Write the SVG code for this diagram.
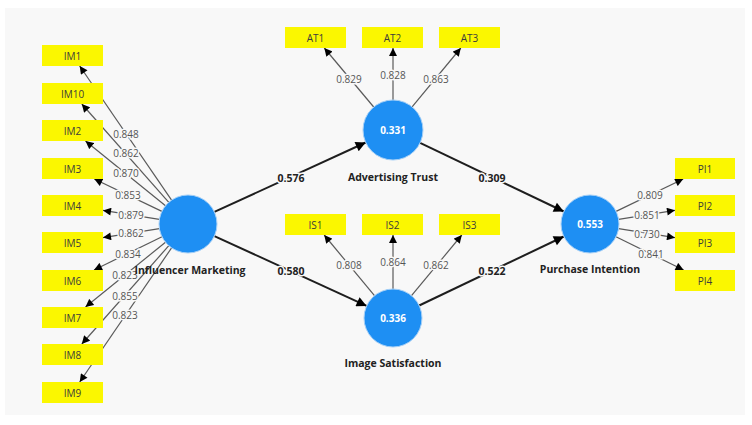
<svg xmlns="http://www.w3.org/2000/svg" width="752" height="425" viewBox="0 0 752 425">
<style>
.bg{fill:#f8f8f8}
.ind{stroke:#5a5a5a;stroke-width:1.2;fill:none;marker-end:url(#ah)}
.str{stroke:#1e1e1e;stroke-width:2;fill:none;marker-end:url(#ahb)}
.box{fill:#fbf700}
.bt{font-family:"Open Sans","Liberation Sans",sans-serif;font-size:10px;fill:#3c3c3c;text-anchor:middle;dominant-baseline:central}
.lv{fill:#1e8ff3;stroke:#a6d0f7;stroke-width:1}
.vt{font-family:"Open Sans","Liberation Sans",sans-serif;font-size:10px;font-weight:bold;fill:#ffffff;text-anchor:middle;dominant-baseline:central}
.nl{font-family:"Open Sans","Liberation Sans",sans-serif;font-size:10.5px;font-weight:bold;fill:#222;text-anchor:middle;dominant-baseline:central}
.il{font-family:"Open Sans","Liberation Sans",sans-serif;font-size:10px;fill:#555;text-anchor:middle;dominant-baseline:central;paint-order:stroke;stroke:#f8f8f8;stroke-width:3}
.sl{font-family:"Open Sans","Liberation Sans",sans-serif;font-size:10.5px;font-weight:bold;fill:#222;text-anchor:middle;dominant-baseline:central;paint-order:stroke;stroke:#f8f8f8;stroke-width:3}
</style>
<defs>
<marker id="ah" viewBox="0 0 10 10" refX="10" refY="5" markerWidth="9" markerHeight="8" markerUnits="userSpaceOnUse" orient="auto"><path d="M0,0 L10,5 L0,10 z" fill="#000"/></marker>
<marker id="ahb" viewBox="0 0 10 10" refX="10" refY="5" markerWidth="11" markerHeight="10" markerUnits="userSpaceOnUse" orient="auto"><path d="M0,0 L10,5 L0,10 z" fill="#000"/></marker>
</defs>
<rect width="752" height="425" fill="#ffffff"/>
<rect class="bg" x="5" y="8" width="740" height="407"/>
<g id="connectors">
<line class="ind" x1="171.6" y1="200.1" x2="79.7" y2="66"/>
<line class="ind" x1="168.8" y1="202.3" x2="81.8" y2="104"/>
<line class="ind" x1="165.5" y1="205.8" x2="85.5" y2="141"/>
<line class="ind" x1="161.9" y1="211.4" x2="94.3" y2="179"/>
<line class="ind" x1="159.4" y1="219.4" x2="103" y2="210.4"/>
<line class="ind" x1="159.4" y1="228.6" x2="103" y2="237.6"/>
<line class="ind" x1="162" y1="236.7" x2="94" y2="270"/>
<line class="ind" x1="165.5" y1="242.2" x2="85.5" y2="307"/>
<line class="ind" x1="168.8" y1="245.7" x2="81.8" y2="344"/>
<line class="ind" x1="171.6" y1="247.9" x2="79.7" y2="382"/>
<line class="ind" x1="373.7" y1="107" x2="324.3" y2="48"/>
<line class="ind" x1="393" y1="100" x2="393" y2="48"/>
<line class="ind" x1="412.1" y1="106.9" x2="460.8" y2="48"/>
<line class="ind" x1="374.5" y1="295.7" x2="324.2" y2="235"/>
<line class="ind" x1="393" y1="289" x2="393" y2="235"/>
<line class="ind" x1="411.5" y1="295.7" x2="461.8" y2="235"/>
<line class="ind" x1="616.1" y1="211.4" x2="683.2" y2="179"/>
<line class="ind" x1="618.6" y1="219.4" x2="675" y2="210.3"/>
<line class="ind" x1="618.6" y1="228.6" x2="675" y2="237.7"/>
<line class="ind" x1="616" y1="236.8" x2="683.6" y2="270"/>
<line class="str" x1="214.4" y1="211.9" x2="365.7" y2="142.5"/>
<line class="str" x1="214.4" y1="236.1" x2="366.6" y2="305.9"/>
<line class="str" x1="420.1" y1="142.9" x2="563.8" y2="211.5"/>
<line class="str" x1="419.2" y1="305.5" x2="563.8" y2="236.5"/>
<text class="il" x="126" y="134">0.848</text>
<text class="il" x="126" y="153">0.862</text>
<text class="il" x="126" y="173">0.870</text>
<text class="il" x="128" y="195">0.853</text>
<text class="il" x="131" y="215">0.879</text>
<text class="il" x="131" y="233">0.862</text>
<text class="il" x="128" y="254">0.834</text>
<text class="il" x="125" y="275">0.823</text>
<text class="il" x="125" y="296">0.855</text>
<text class="il" x="125" y="315">0.823</text>
<text class="il" x="349" y="79">0.829</text>
<text class="il" x="393" y="75">0.828</text>
<text class="il" x="436" y="79">0.863</text>
<text class="il" x="349" y="265">0.808</text>
<text class="il" x="393" y="262">0.864</text>
<text class="il" x="436" y="265">0.862</text>
<text class="il" x="650" y="195">0.809</text>
<text class="il" x="647" y="215">0.851</text>
<text class="il" x="647" y="234">0.730</text>
<text class="il" x="651" y="254">0.841</text>
<text class="sl" x="291" y="178">0.576</text>
<text class="sl" x="291" y="271">0.580</text>
<text class="sl" x="492" y="178">0.309</text>
<text class="sl" x="492" y="271">0.522</text>
</g>
<g id="IM1"><rect class="box" x="42" y="45" width="61" height="21"/><text class="bt" x="72.5" y="55.5">IM1</text></g>
<g id="IM10"><rect class="box" x="42" y="83" width="61" height="21"/><text class="bt" x="72.5" y="93.5">IM10</text></g>
<g id="IM2"><rect class="box" x="42" y="120" width="61" height="21"/><text class="bt" x="72.5" y="130.5">IM2</text></g>
<g id="IM3"><rect class="box" x="42" y="158" width="61" height="21"/><text class="bt" x="72.5" y="168.5">IM3</text></g>
<g id="IM4"><rect class="box" x="42" y="195" width="61" height="21"/><text class="bt" x="72.5" y="205.5">IM4</text></g>
<g id="IM5"><rect class="box" x="42" y="232" width="61" height="21"/><text class="bt" x="72.5" y="242.5">IM5</text></g>
<g id="IM6"><rect class="box" x="42" y="270" width="61" height="21"/><text class="bt" x="72.5" y="280.5">IM6</text></g>
<g id="IM7"><rect class="box" x="42" y="307" width="61" height="21"/><text class="bt" x="72.5" y="317.5">IM7</text></g>
<g id="IM8"><rect class="box" x="42" y="344" width="61" height="21"/><text class="bt" x="72.5" y="354.5">IM8</text></g>
<g id="IM9"><rect class="box" x="42" y="382" width="61" height="21"/><text class="bt" x="72.5" y="392.5">IM9</text></g>
<g id="AT1"><rect class="box" x="285" y="27" width="61" height="21"/><text class="bt" x="315.5" y="37.5">AT1</text></g>
<g id="AT2"><rect class="box" x="362" y="27" width="61" height="21"/><text class="bt" x="392.5" y="37.5">AT2</text></g>
<g id="AT3"><rect class="box" x="439" y="27" width="61" height="21"/><text class="bt" x="469.5" y="37.5">AT3</text></g>
<g id="IS1"><rect class="box" x="285" y="214" width="61" height="21"/><text class="bt" x="315.5" y="224.5">IS1</text></g>
<g id="IS2"><rect class="box" x="362" y="214" width="61" height="21"/><text class="bt" x="392.5" y="224.5">IS2</text></g>
<g id="IS3"><rect class="box" x="439" y="214" width="61" height="21"/><text class="bt" x="469.5" y="224.5">IS3</text></g>
<g id="PI1"><rect class="box" x="675" y="158" width="60" height="21"/><text class="bt" x="705" y="168.5">PI1</text></g>
<g id="PI2"><rect class="box" x="675" y="195" width="60" height="21"/><text class="bt" x="705" y="205.5">PI2</text></g>
<g id="PI3"><rect class="box" x="675" y="232" width="60" height="21"/><text class="bt" x="705" y="242.5">PI3</text></g>
<g id="PI4"><rect class="box" x="675" y="270" width="60" height="21"/><text class="bt" x="705" y="280.5">PI4</text></g>
<g id="InfluencerMarketing"><circle class="lv" cx="188" cy="224" r="29"/><text class="nl" x="190" y="270">Influencer Marketing</text></g>
<g id="AdvertisingTrust"><circle class="lv" cx="393" cy="130" r="30"/><text class="vt" x="393" y="130">0.331</text><text class="nl" x="393" y="177">Advertising Trust</text></g>
<g id="ImageSatisfaction"><circle class="lv" cx="393" cy="318" r="29"/><text class="vt" x="393" y="318">0.336</text><text class="nl" x="393" y="363">Image Satisfaction</text></g>
<g id="PurchaseIntention"><circle class="lv" cx="590" cy="224" r="29"/><text class="vt" x="590" y="224">0.553</text><text class="nl" x="590" y="269">Purchase Intention</text></g>
</svg>
